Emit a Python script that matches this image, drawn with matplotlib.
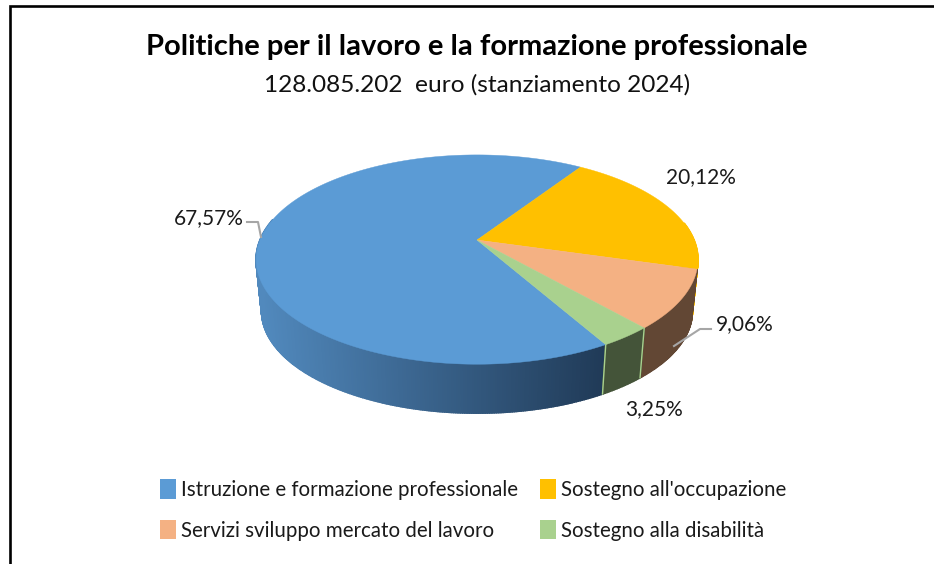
import numpy as np
import matplotlib
matplotlib.use('Agg')
import matplotlib.pyplot as plt
from matplotlib.colors import to_rgb
from matplotlib.patches import Patch

plt.rcParams['font.family'] = ['Lato', 'DejaVu Sans']

labels = ['Istruzione e formazione professionale', "Sostegno all'occupazione",
          'Servizi sviluppo mercato del lavoro', 'Sostegno alla disabilità']
values = [67.57, 20.12, 9.06, 3.25]
value_text = ['67,57%', '20,12%', '9,06%', '3,25%']
colors = ['#5b9bd5', '#ffc000', '#f4b183', '#a9d18e']

# perspective of the tilted pie, in pixels
cx, cy = 477, 240
rx, ry, persp = 217, 101, 0.187
start = 150.2     # blue slice starts here, clockwise from the top
depth, shrink = 52, 0.975


def project(ang, r=1.0, bottom=False):
    a = np.radians(ang)
    u, v = r * np.sin(a), -r * np.cos(a)
    w = 1 - persp * v
    if bottom:
        return cx + shrink * rx * u / w, cy + depth + shrink * ry * v / w
    return cx + rx * u / w, cy + ry * v / w


def mix(c1, c2, t):
    c1, c2 = np.array(to_rgb(c1)), np.array(to_rgb(c2))
    return tuple(c1 + (c2 - c1) * t)


fig = plt.figure(figsize=(9.34, 5.64), dpi=100)
ax = fig.add_axes([0, 0, 1, 1])
ax.set_xlim(0, 934)
ax.set_ylim(564, 0)
ax.axis('off')

# frame: only top and left are in the crop
ax.plot([9.5, 9.5, 934], [564, 6, 6], color='black', lw=1.9, solid_capstyle='butt',
        solid_joinstyle='miter')

edges = start + np.cumsum([0] + values) * 3.6

# side wall
for i in range(len(values)):
    a0, a1 = edges[i], edges[i + 1]
    angs = np.arange(a0, a1, 0.5)
    angs = np.append(angs, a1)
    for p, q in zip(angs[:-1], angs[1:]):
        mid = (p + q) / 2 % 360
        if mid < 80 or mid > 282:
            continue
        x1, y1 = project(p)
        x2, y2 = project(q)
        x3, y3 = project(q, bottom=True)
        x4, y4 = project(p, bottom=True)
        if i == 0:
            t = np.clip((605 - (x1 + x2) / 2) / 345, 0, 1)
            c = mix('#203a57', '#5189bd', t)
        elif i == 1:
            c = colors[1]     # only a bright sliver shows at the right edge
        else:
            c = mix(colors[i], '#000000', 0.6)
        ax.fill([x1, x2, x3, x4], [y1, y2, y3, y4], color=c, lw=1.2, zorder=2)

# light seams either side of the green wall
for a in [edges[0], edges[3]]:
    x1, y1 = project(a)
    x2, y2 = project(a, bottom=True)
    ax.plot([x1, x2], [y1, y2], color='#a9d18e', lw=1, zorder=3)

# top face
for i in range(len(values)):
    angs = np.linspace(edges[i], edges[i + 1], 200)
    x, y = project(angs)
    ax.fill(np.r_[cx, x], np.r_[cy, y], color=colors[i], lw=0.3, zorder=4)

# leader lines
ax.plot([247, 258, 261], [222, 222, 237], color='#a6a6a6', lw=1.5, zorder=5)
ax.plot([674, 700, 711], [346, 329, 329], color='#a6a6a6', lw=1.5, zorder=5)

# value labels
label_pos = [(209, 218), (701, 177), (745, 324), (654, 409)]
for txt, (x, y) in zip(value_text, label_pos):
    ax.text(x, y, txt, fontsize=15, color='#1a1a1a', ha='center', va='center', zorder=6)

ax.text(477, 47, 'Politiche per il lavoro e la formazione professionale', fontsize=21,
        fontweight='bold', color='black', ha='center', va='center')
ax.text(477, 85, '128.085.202  euro (stanziamento 2024)', fontsize=17.6,
        color='#111111', ha='center', va='center')

# legend fills by column, so pass the entries in that order
order = [0, 2, 1, 3]
handles = [Patch(facecolor=colors[i], edgecolor='none') for i in order]
ax.legend(handles, [labels[i] for i in order], ncol=2, frameon=False, fontsize=14.8,
          labelcolor='#1a1a1a', loc='center left', bbox_to_anchor=(160 / 934, 1 - 510 / 564),
          handlelength=0.78, handleheight=1.1, handletextpad=0.25,
          columnspacing=1.07, labelspacing=0.95, borderpad=0, borderaxespad=0)

fig.savefig('out.png', dpi=100)
